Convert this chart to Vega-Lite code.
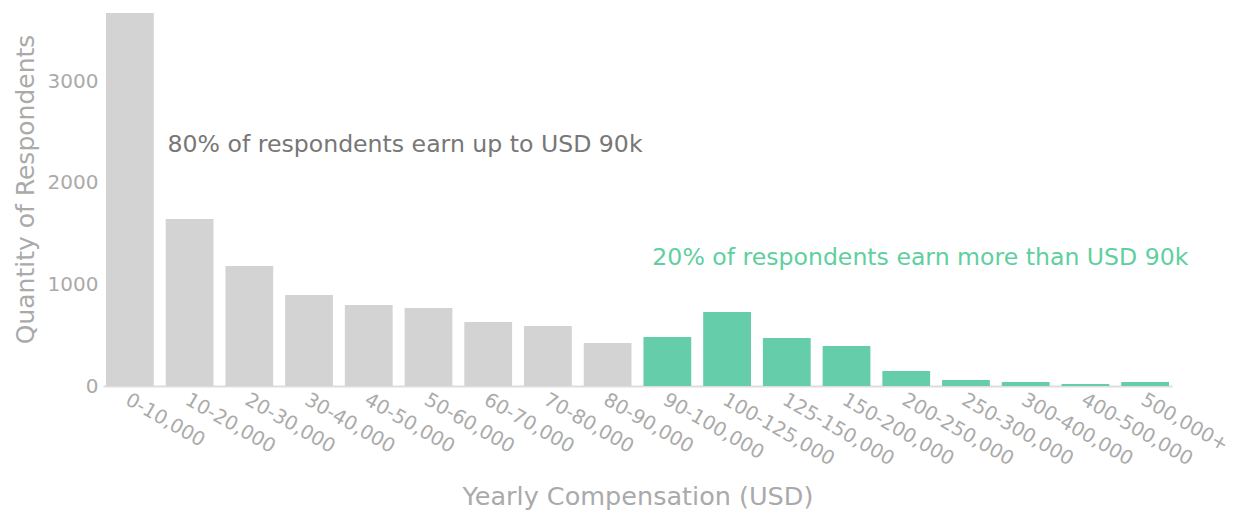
{
  "$schema": "https://vega.github.io/schema/vega-lite/v6.json",
  "width": 1069,
  "height": 373,
  "autosize": {"type": "none"},
  "padding": {"left": 103, "top": 13, "right": 64, "bottom": 131},
  "background": "white",
  "config": {
    "view": {"stroke": null},
    "font": "DejaVu Sans",
    "axis": {"labelFont": "DejaVu Sans", "titleFont": "DejaVu Sans", "titleFontWeight": "normal", "grid": false},
    "text": {"font": "DejaVu Sans"}
  },
  "datasets": {
    "bars": [
      {"range": "0-10,000", "count": 3670, "group": "low"},
      {"range": "10-20,000", "count": 1642, "group": "low"},
      {"range": "20-30,000", "count": 1180, "group": "low"},
      {"range": "30-40,000", "count": 895, "group": "low"},
      {"range": "40-50,000", "count": 796, "group": "low"},
      {"range": "50-60,000", "count": 767, "group": "low"},
      {"range": "60-70,000", "count": 629, "group": "low"},
      {"range": "70-80,000", "count": 590, "group": "low"},
      {"range": "80-90,000", "count": 423, "group": "low"},
      {"range": "90-100,000", "count": 482, "group": "high"},
      {"range": "100-125,000", "count": 728, "group": "high"},
      {"range": "125-150,000", "count": 472, "group": "high"},
      {"range": "150-200,000", "count": 393, "group": "high"},
      {"range": "200-250,000", "count": 147, "group": "high"},
      {"range": "250-300,000", "count": 59, "group": "high"},
      {"range": "300-400,000", "count": 39, "group": "high"},
      {"range": "400-500,000", "count": 20, "group": "high"},
      {"range": "500,000+", "count": 39, "group": "high"}
    ],
    "note1": [
      {"range": "10-20,000", "count": 2370, "label": "80% of respondents earn up to USD 90k"}
    ],
    "note2": [
      {"range": "90-100,000", "count": 1259, "label": "20% of respondents earn more than USD 90k"}
    ]
  },
  "layer": [
    {
      "data": {"name": "bars"},
      "mark": {"type": "bar"},
      "encoding": {
        "x": {
          "field": "range", "type": "nominal", "sort": null,
          "scale": {"paddingInner": 0.2, "paddingOuter": 0.05},
          "axis": {
            "title": "Yearly Compensation (USD)",
            "titleFontSize": 25.5, "titleColor": "#aaaaaa", "titlePadding": 16,
            "labelAngle": 30, "labelAlign": "left", "labelBaseline": "top",
            "labelFontSize": 19.5, "labelColor": "#aaaaaa", "labelPadding": 4, "labelOffset": 2,
            "ticks": false, "domainColor": "#dddddd", "domainWidth": 2
          }
        },
        "y": {
          "field": "count", "type": "quantitative",
          "scale": {"domain": [0, 3670], "nice": false},
          "axis": {
            "title": "Quantity of Respondents",
            "titleFontSize": 25, "titleColor": "#aaaaaa", "titlePadding": 9, "titleY": 176,
            "labelFontSize": 20, "labelColor": "#aaaaaa", "labelPadding": 5,
            "values": [0, 1000, 2000, 3000], "format": "d",
            "ticks": false, "domain": false
          }
        },
        "color": {
          "field": "group", "type": "nominal",
          "scale": {"domain": ["low", "high"], "range": ["#d3d3d3", "#66cdaa"]},
          "legend": null
        }
      }
    },
    {
      "data": {"name": "note1"},
      "mark": {"type": "text", "align": "left", "baseline": "middle", "fontSize": 23.6, "dx": -22, "color": "#777777"},
      "encoding": {
        "x": {"field": "range", "type": "nominal", "sort": null},
        "y": {"field": "count", "type": "quantitative"},
        "text": {"field": "label"}
      }
    },
    {
      "data": {"name": "note2"},
      "mark": {"type": "text", "align": "left", "baseline": "middle", "fontSize": 23.6, "dx": -15, "color": "#5fcfa0"},
      "encoding": {
        "x": {"field": "range", "type": "nominal", "sort": null},
        "y": {"field": "count", "type": "quantitative"},
        "text": {"field": "label"}
      }
    }
  ]
}
